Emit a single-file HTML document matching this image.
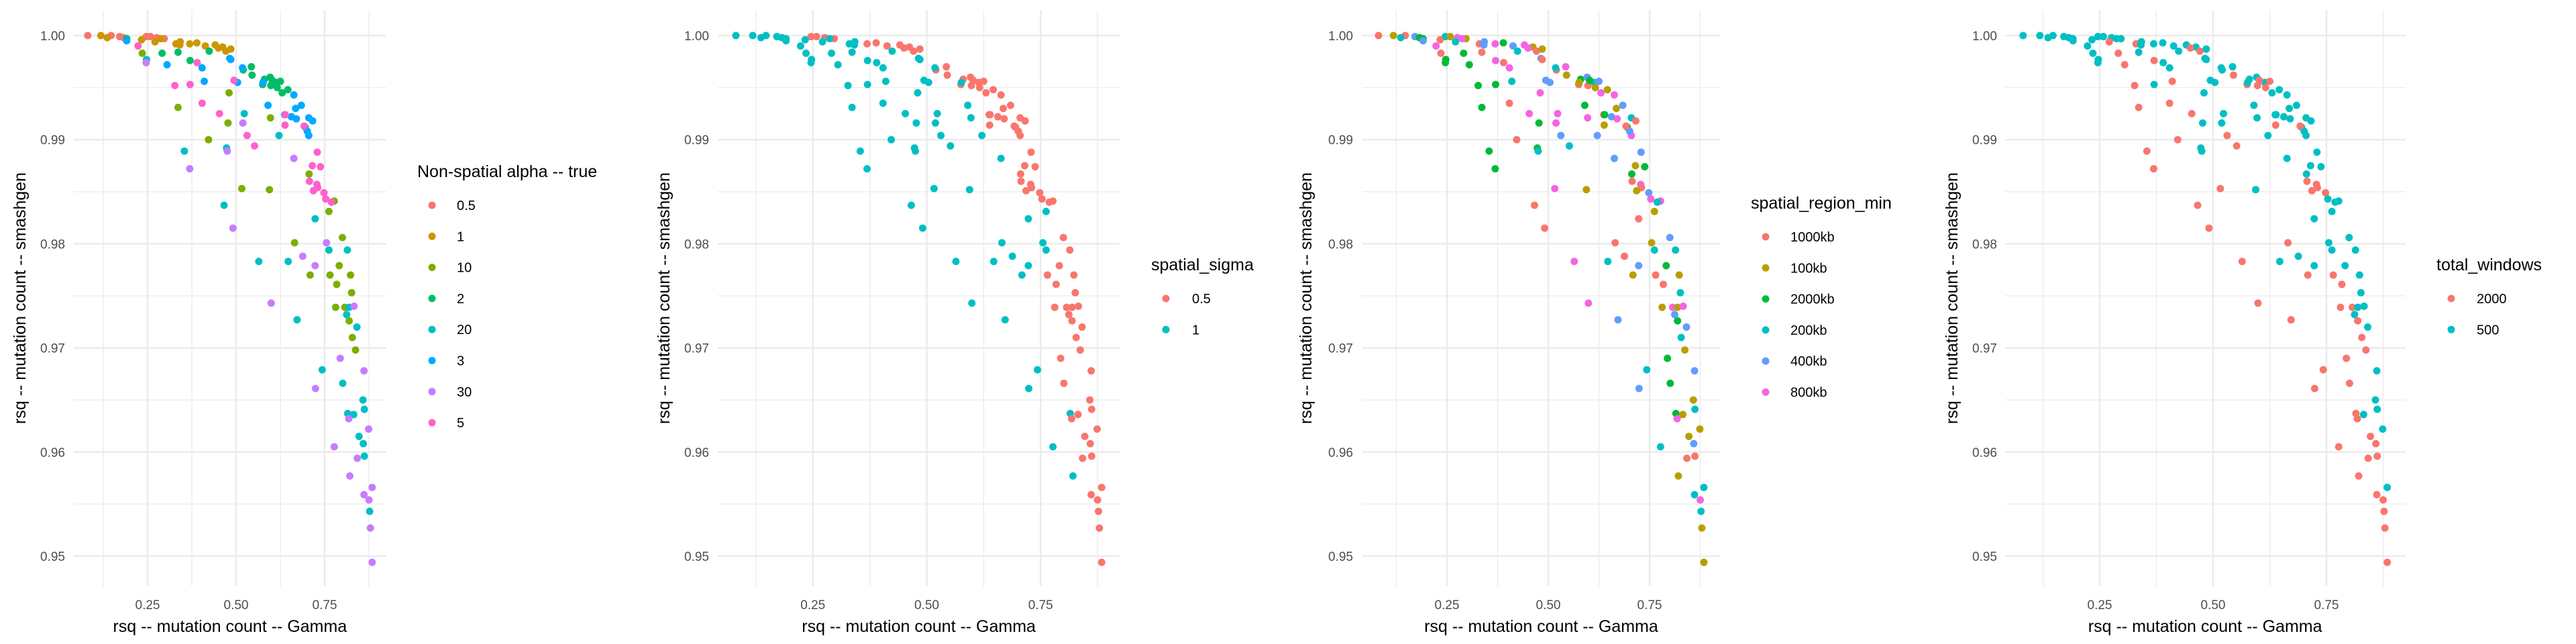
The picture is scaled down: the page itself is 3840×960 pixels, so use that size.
<!DOCTYPE html>
<html><head><meta charset="utf-8">
<style>
html,body{margin:0;padding:0;background:#fff;}
svg{display:block;font-family:"Liberation Sans",Arial,sans-serif;}
</style></head>
<body>
<svg id="chart" width="3840" height="960" viewBox="0 0 3840 960" xmlns="http://www.w3.org/2000/svg"></svg>
<script>
// shared point data (rsq Gamma, rsq smashgen)
const xVals = [
0.081,0.147,0.171,0.182,0.246,0.258,0.276,0.297,
0.118,0.136,0.233,0.271,0.287,0.330,0.342,0.341,0.369,0.389,0.413,0.441,0.462,0.471,0.485,0.450,
0.235,0.336,0.422,0.480,0.477,0.516,0.594,0.597,0.665,0.706,0.709,0.777,0.762,0.800,0.765,0.791,0.784,0.823,0.826,0.781,0.807,0.819,0.828,0.837,
0.191,0.291,0.336,0.370,0.424,0.520,0.543,0.545,0.575,0.580,0.596,0.598,0.614,0.616,0.625,0.630,0.646,0.602,
0.247,0.354,0.466,0.473,0.523,0.564,0.621,0.647,0.672,0.723,0.743,0.762,0.801,0.812,0.814,0.819,0.841,0.815,0.832,0.858,0.862,0.847,0.859,0.862,0.877,
0.191,0.305,0.404,0.410,0.482,0.485,0.504,0.518,0.576,0.590,0.637,0.656,0.663,0.668,0.670,0.684,0.695,0.705,0.701,0.705,0.716,
0.246,0.369,0.475,0.491,0.519,0.599,0.663,0.688,0.723,0.724,0.755,0.777,0.794,0.818,0.833,0.821,0.842,0.861,0.861,0.874,0.875,0.879,0.884,0.884,
0.223,0.327,0.370,0.390,0.404,0.453,0.494,0.531,0.552,0.639,0.638,0.692,0.729,0.715,0.738,0.707,0.728,0.730,0.718,0.748,0.753,0.769
];
const yVals = [
1.0000,1.0000,0.9999,0.9998,0.9999,0.9999,0.9998,0.9997,
1.0000,0.9998,0.9996,0.9994,0.9997,0.9992,0.9994,0.9991,0.9992,0.9993,0.9990,0.9991,0.9989,0.9985,0.9987,0.9988,
0.9983,0.9931,0.9900,0.9945,0.9916,0.9853,0.9852,0.9921,0.9801,0.9867,0.9770,0.9841,0.9831,0.9806,0.9770,0.9779,0.9761,0.9770,0.9753,0.9739,0.9739,0.9726,0.9710,0.9698,
0.9997,0.9983,0.9984,0.9976,0.9985,0.9967,0.9970,0.9962,0.9953,0.9958,0.9960,0.9952,0.9955,0.9950,0.9956,0.9945,0.9948,0.9957,
0.9977,0.9889,0.9837,0.9892,0.9925,0.9783,0.9904,0.9783,0.9727,0.9824,0.9679,0.9794,0.9666,0.9732,0.9794,0.9739,0.9720,0.9637,0.9636,0.9650,0.9641,0.9615,0.9608,0.9596,0.9543,
0.9995,0.9972,0.9969,0.9956,0.9978,0.9977,0.9955,0.9969,0.9955,0.9933,0.9924,0.9922,0.9943,0.9930,0.9920,0.9933,0.9912,0.9904,0.9908,0.9921,0.9918,
0.9974,0.9872,0.9889,0.9815,0.9916,0.9743,0.9882,0.9788,0.9779,0.9661,0.9801,0.9605,0.9690,0.9632,0.9740,0.9577,0.9594,0.9678,0.9559,0.9622,0.9554,0.9527,0.9566,0.9494,
0.9990,0.9952,0.9953,0.9974,0.9935,0.9925,0.9957,0.9904,0.9894,0.9924,0.9914,0.9913,0.9888,0.9875,0.9874,0.9860,0.9857,0.9854,0.9851,0.9849,0.9843,0.9840
];
// group index per point, per panel
const groupAlpha = [
0,0,0,0,0,0,0,0,
1,1,1,1,1,1,1,1,1,1,1,1,1,1,1,1,
2,2,2,2,2,2,2,2,2,2,2,2,2,2,2,2,2,2,2,2,2,2,2,2,
3,3,3,3,3,3,3,3,3,3,3,3,3,3,3,3,3,3,
4,4,4,4,4,4,4,4,4,4,4,4,4,4,4,4,4,4,4,4,4,4,4,4,4,
5,5,5,5,5,5,5,5,5,5,5,5,5,5,5,5,5,5,5,5,5,
6,6,6,6,6,6,6,6,6,6,6,6,6,6,6,6,6,6,6,6,6,6,6,6,
7,7,7,7,7,7,7,7,7,7,7,7,7,7,7,7,7,7,7,7,7,7
];
const groupSigma = [
1,1,1,1,0,0,0,0,
1,1,1,1,1,1,1,1,0,0,0,0,0,0,0,0,
1,1,1,1,1,1,1,1,1,0,1,0,1,0,0,0,0,0,0,0,0,0,0,0,
1,1,1,1,1,0,0,0,0,0,0,0,0,0,0,0,0,0,
1,1,1,1,1,1,1,1,1,1,1,1,0,0,0,0,0,1,0,0,0,0,0,0,0,
1,1,1,1,1,1,1,1,1,1,0,0,0,0,0,0,0,0,0,0,0,
1,1,1,1,1,1,1,1,1,1,1,1,0,0,0,1,0,0,0,0,0,0,0,0,
1,1,1,1,1,1,1,1,1,0,0,0,0,0,0,0,0,0,0,0,0,0
];
const groupRegion = [
0,0,4,2,3,1,5,1,
1,3,0,3,5,0,4,4,5,2,4,5,1,0,1,5,
0,2,0,5,2,5,1,5,0,2,1,5,1,4,0,2,0,1,3,1,5,2,3,1,
2,2,0,5,3,0,5,1,0,2,4,0,3,1,4,5,1,2,
2,2,0,2,5,5,4,3,4,0,3,3,2,4,3,1,4,2,1,1,3,1,4,0,3,
4,2,5,3,4,0,4,3,1,2,0,4,5,1,5,4,2,5,4,3,0,
2,2,3,0,5,5,4,0,4,4,1,3,2,5,5,1,0,4,3,1,5,1,3,1,
5,2,2,0,0,5,4,4,3,2,1,0,4,1,2,0,5,0,1,4,5,3
];
const groupWindows = [
1,1,1,1,1,1,1,1,
1,1,1,0,1,0,1,1,1,1,1,1,1,0,1,0,
1,0,0,1,1,0,1,1,0,1,0,1,1,1,0,1,0,1,1,0,0,0,0,0,
1,0,1,0,1,1,1,0,0,1,1,0,1,0,0,1,1,0,
1,0,0,1,1,0,1,1,0,1,0,1,0,1,1,1,1,0,1,1,1,0,0,0,0,
1,0,1,0,1,1,1,1,1,1,1,1,1,1,1,1,1,1,1,1,1,
1,0,1,0,1,0,1,1,1,0,1,0,0,0,1,0,0,1,0,1,0,0,1,0,
1,0,1,1,0,0,1,0,0,1,0,0,1,1,1,0,0,0,0,0,1,1
];
const labelsAlpha = ["0.5","1","10","2","20","3","30","5"];
const labelsSigma = ["0.5","1"];
const labelsRegion = ["1000kb","100kb","2000kb","200kb","400kb","800kb"];
const labelsWindows = ["2000","500"];
const xTicks = [0.25,0.50,0.75];
const xTickLabels = ["0.25","0.50","0.75"];
const yTicks = [1.00,0.99,0.98,0.97,0.96,0.95];
const yTickLabels = ["1.00","0.99","0.98","0.97","0.96","0.95"];

const colors8 = ["#F8766D","#CD9600","#7CAE00","#00BE67","#00BFC4","#00A9FF","#C77CFF","#FF61CC"];
const colors6 = ["#F8766D","#B79F00","#00BA38","#00BFC4","#619CFF","#F564E3"];
const colors2 = ["#F8766D","#00BFC4"];

const panels = [
 {name:"alpha",x0:88,sx:528,yLab:97,yTitle:29,title:"Non-spatial alpha -- true",tx:622,ty:255,ky:306,kx:644,lx:681,groups:groupAlpha,labels:labelsAlpha,colors:colors8},
 {name:"sigma",x0:1042,sx:679,yLab:1057,yTitle:989,title:"spatial_sigma",tx:1716,ty:394,ky:445,kx:1738,lx:1777,groups:groupSigma,labels:labelsSigma,colors:colors2},
 {name:"region",x0:2006,sx:604,yLab:2017,yTitle:1946,title:"spatial_region_min",tx:2610,ty:302,ky:353,kx:2632,lx:2669,groups:groupRegion,labels:labelsRegion,colors:colors6},
 {name:"windows",x0:2961,sx:676,yLab:2977,yTitle:2909,title:"total_windows",tx:3632,ty:394,ky:445,kx:3654,lx:3692,groups:groupWindows,labels:labelsWindows,colors:colors2}
];
const NS="http://www.w3.org/2000/svg";
const svg=document.getElementById('chart');
function el(tag,attrs,parent){const e=document.createElementNS(NS,tag);for(const k in attrs)e.setAttribute(k,attrs[k]);(parent||svg).appendChild(e);return e;}
const yScale=v=>53+(1.0-v)*15520;
const plotTop=15, plotBot=874;

panels.forEach(p=>{
  const xs=v=>p.x0+v*p.sx;
  const g=el('g',{});
  
  
  const L=xs(0.041), R=xs(0.924);
  // minor grid
  [0.955,0.965,0.975,0.985,0.995].forEach(v=>{const l=el('line',{x1:L,x2:R,y1:yScale(v),y2:yScale(v),stroke:'#EBEBEB','stroke-width':1.3},g);});
  [0.125,0.375,0.625,0.875].forEach(v=>{const l=el('line',{x1:xs(v),x2:xs(v),y1:plotTop,y2:plotBot,stroke:'#EBEBEB','stroke-width':1.3},g);});
  yTicks.forEach((v,i)=>{
    const l=el('line',{x1:L,x2:R,y1:yScale(v),y2:yScale(v),stroke:'#EBEBEB','stroke-width':2.5},g);
    
    
    const t=el('text',{x:p.yLab,y:yScale(v)+7,'text-anchor':'end','font-size':19,fill:'#4D4D4D'},g);
    t.textContent=yTickLabels[i];
    
    
  });
  xTicks.forEach((v,i)=>{
    const l=el('line',{x1:xs(v),x2:xs(v),y1:plotTop,y2:plotBot,stroke:'#EBEBEB','stroke-width':2.5},g);
    
    
    const t=el('text',{x:xs(v),y:908,'text-anchor':'middle','font-size':19,fill:'#4D4D4D'},g);
    t.textContent=xTickLabels[i];
    
    
  });
  const xt=el('text',{x:(L+R)/2,y:942,'text-anchor':'middle','font-size':25,fill:'#000'},g);
  xt.textContent='rsq -- mutation count -- Gamma';
  
  
  const yt=el('text',{x:0,y:0,'text-anchor':'middle','font-size':25,fill:'#000',transform:`translate(${p.yTitle+9},${(plotTop+plotBot)/2}) rotate(-90)`},g);
  yt.textContent='rsq -- mutation count -- smashgen';
  
  
  xVals.forEach((xv,i)=>{
    const c=el('circle',{cx:xs(xv),cy:yScale(yVals[i]),r:5.5,fill:p.colors[p.groups[i]||0]},g);
    
    
  });
  const lg=el('g',{},g);
  
  
  const lt=el('text',{x:p.tx,y:p.ty+9,'font-size':25,fill:'#000'},lg);
  lt.textContent=p.title;
  
  
  p.labels.forEach((lab,k)=>{
    const cy=p.ky+k*46.3;
    const c=el('circle',{cx:p.kx,cy:cy,r:5.5,fill:p.colors[k]},lg);
    
    
    const t=el('text',{x:p.lx,y:cy+7,'font-size':20,fill:'#000'},lg);
    t.textContent=lab;
    
    
  });
});
</script>
</body></html>
